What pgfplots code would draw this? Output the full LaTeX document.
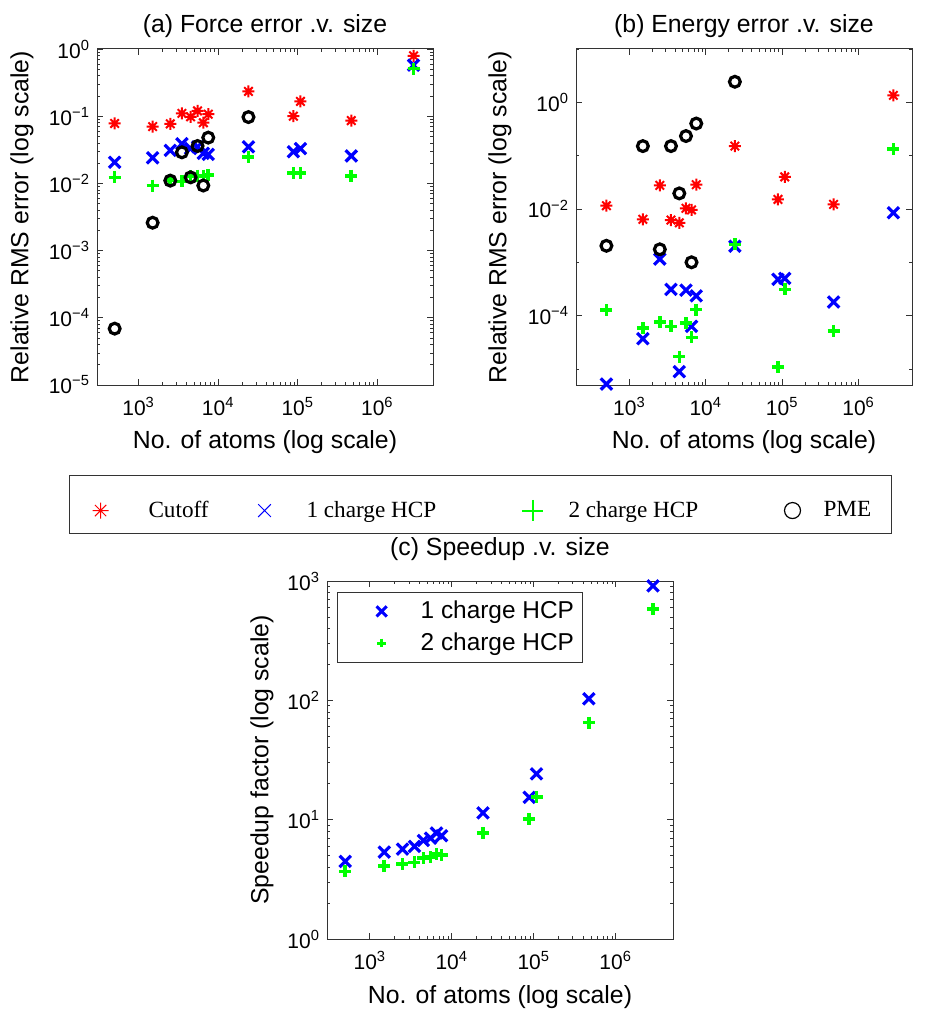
\documentclass[border=0pt]{standalone}
\usepackage{fontspec}
\setmainfont{Liberation Sans}
\newfontfamily\lgfont{Liberation Serif}
\usepackage{pgfplots}
\pgfplotsset{compat=1.18}
\usepackage{pgfplotstable}

% matlab style 8-armed asterisk
\pgfdeclareplotmark{mstar}{%
  \pgfpathmoveto{\pgfqpoint{-\pgfplotmarksize}{0pt}}\pgfpathlineto{\pgfqpoint{\pgfplotmarksize}{0pt}}%
  \pgfpathmoveto{\pgfqpoint{0pt}{-\pgfplotmarksize}}\pgfpathlineto{\pgfqpoint{0pt}{\pgfplotmarksize}}%
  \pgfpathmoveto{\pgfqpoint{-.7071\pgfplotmarksize}{-.7071\pgfplotmarksize}}\pgfpathlineto{\pgfqpoint{.7071\pgfplotmarksize}{.7071\pgfplotmarksize}}%
  \pgfpathmoveto{\pgfqpoint{-.7071\pgfplotmarksize}{.7071\pgfplotmarksize}}\pgfpathlineto{\pgfqpoint{.7071\pgfplotmarksize}{-.7071\pgfplotmarksize}}%
  \pgfusepathqstroke}

\newcommand\tp[1]{10\textsuperscript{#1}}

% force error
\pgfplotstableread{
N cut hcp1 hcp2 pme
500 0.078 0.0206 0.0123 6.9e-5
1500 0.070 0.024 0.0093 0.0026
2500 0.077 0.031 0.0112 0.011
3500 0.110 0.039 0.0107 0.029
4500 0.098 0.033 0.0127 0.0123
5500 0.12 0.035 0.013 0.036
6500 0.080 0.028 0.013 0.0093
7500 0.107 0.027 0.0134 0.048
24000 0.234 0.035 0.0245 0.097
88000 0.10 0.0296 0.0142 nan
108000 0.166 0.033 0.0142 nan
470000 0.086 0.0256 0.013 nan
2850000 0.79 0.575 0.51 nan
}\forcetab

% energy error
\pgfplotstableread{
N cut hcp1 hcp2 pme
500 0.0115 5.2e-6 1.27e-4 0.00204
1500 0.0064 3.7e-5 5.8e-5 0.151
2500 0.0277 0.00115 7.5e-5 0.00175
3500 0.0062 3.1e-4 6.3e-5 0.151
4500 0.0055 8.9e-6 1.7e-5 0.0196
5500 0.0103 3.0e-4 7.2e-5 0.233
6500 0.0096 6.3e-5 3.9e-5 0.001
7500 0.0285 2.35e-4 1.3e-4 0.40
24000 0.151 0.0020 0.00217 2.43
88000 0.0151 4.8e-4 1.1e-5 nan
108000 0.040 5.0e-4 3.1e-4 nan
470000 0.0122 1.8e-4 5.2e-5 nan
2850000 1.35 0.0085 0.133 nan
}\energytab

% speedup
\pgfplotstableread{
N hcp1 hcp2
500 4.47 3.68
1500 5.35 4.11
2500 5.67 4.27
3500 5.97 4.38
4500 6.70 4.77
5500 7.0 4.86
6500 7.73 5.18
7500 7.33 5.08
24000 11.4 7.7
88000 15.4 10.1
108000 24.2 15.5
470000 103 65
2850000 910 580
}\speedtab

\pgfplotsset{
  every axis/.append style={
    scale only axis, clip=false,
    axis line style={black!80, line width=0.5pt},
    major tick style={black!80, line width=0.4pt},
    minor tick style={black!80, line width=0.4pt},
    major tick length=3pt, minor tick length=1.6pt,
    tick align=inside,
    tick label style={font=\fontsize{10.5}{12}\selectfont},
    xticklabel style={yshift=-2.5pt},
    label style={font=\fontsize{12.4}{14}\selectfont},
    title style={font=\fontsize{12.4}{14}\selectfont, at={(axis description cs:0.5,1.032)}, anchor=center},
    xtick={1e3,1e4,1e5,1e6}, xticklabels={\tp{3},\tp{4},\tp{5},\tp{6}},
    xlabel={No. of atoms (log scale)},
    xlabel style={at={(axis description cs:0.5,-0.17)}, anchor=center},
  },
  sCut/.style={only marks, mark=mstar, red, mark size=3pt, line width=1pt},
  sHa/.style={only marks, mark=x, blue, mark size=4pt, line width=1.6pt},
  sHb/.style={only marks, mark=+, green, mark size=3pt, line width=1.8pt},
  sPme/.style={only marks, mark=o, black, mark size=2.7pt, line width=1.6pt},
}

\begin{document}
\begin{tikzpicture}
\useasboundingbox (0,0) rectangle (462.5pt,-510pt);

% (a) force error
\begin{axis}[xmode=log, ymode=log, at={(48.5pt,-192.5pt)}, anchor=south west, width=168pt, height=168pt,
  xmin=300, xmax=5e6, ymin=1e-5, ymax=1,
  ytick={1e-5,1e-4,1e-3,1e-2,1e-1,1},
  yticklabels={\tp{−5},\tp{−4},\tp{−3},\tp{−2},\tp{−1},\tp{0}},
  title={(a) Force error .v. size},
  ylabel={Relative RMS error (log scale)},
  ylabel style={at={(axis description cs:-0.223,0.5)}, anchor=center},
  legend columns=4,
  legend image code/.code={\path[draw=none,fill=none] (-10.5pt,-3pt) rectangle (6pt,11.25pt); \draw[#1] plot coordinates {(0pt,0pt)};},
  legend style={at={(-0.0833,-0.268)}, anchor=north west, draw=black!80, line width=0.5pt,
    inner xsep=5pt, inner ysep=6.25pt, column sep=0pt, nodes={inner sep=0pt},
    font=\lgfont\fontsize{11.6}{13}\selectfont},
]
\addlegendimage{only marks, mark=mstar, red, mark size=4pt, line width=0.5pt}
\addlegendentry{\makebox[65.5pt][l]{\hspace{18pt}Cutoff}}
\addlegendimage{only marks, mark=x, blue, mark size=4.5pt, line width=0.5pt}
\addlegendentry{\makebox[117.5pt][l]{\hspace{15pt}1 charge HCP}}
\addlegendimage{only marks, mark=+, green, mark size=5.3pt, line width=1pt}
\addlegendentry{\makebox[113.5pt][l]{\hspace{12pt}2 charge HCP}}
\addlegendimage{only marks, mark=o, black, mark size=4pt, line width=0.6pt}
\addlegendentry{\makebox[38.5pt][l]{\hspace{9.5pt}PME}}
\addplot[sCut, forget plot] table[x=N, y=cut] {\forcetab};
\addplot[sHa, forget plot] table[x=N, y=hcp1] {\forcetab};
\addplot[sHb, forget plot] table[x=N, y=hcp2] {\forcetab};
\addplot[sPme, forget plot, unbounded coords=discard] table[x=N, y=pme] {\forcetab};
\end{axis}

% (b) energy error
\begin{axis}[xmode=log, ymode=log, at={(288pt,-192.5pt)}, anchor=south west, width=168pt, height=168pt,
  xmin=200, xmax=5e6, ymin=5e-6, ymax=10,
  ytick={1e-4,1e-2,1}, yticklabels={\tp{−4},\tp{−2},\tp{0}},
  minor ytick={1e-5,1e-3,1e-1,10},
  title={(b) Energy error .v. size},
  ylabel={Relative RMS error (log scale)},
  ylabel style={at={(axis description cs:-0.226,0.5)}, anchor=center},
]
\addplot[sCut] table[x=N, y=cut] {\energytab};
\addplot[sHa] table[x=N, y=hcp1] {\energytab};
\addplot[sHb] table[x=N, y=hcp2] {\energytab};
\addplot[sPme, unbounded coords=discard] table[x=N, y=pme] {\energytab};
\end{axis}

% (c) speedup
\begin{axis}[xmode=log, ymode=log, at={(163.5pt,-469.5pt)}, anchor=south west, width=173pt, height=179pt,
  xmin=300, xmax=5e6, ymin=1, ymax=1000,
  ytick={1,10,100,1000}, yticklabels={\tp{0},\tp{1},\tp{2},\tp{3}},
  title={(c) Speedup .v. size},
  title style={at={(axis description cs:0.5,1.056)}},
  ylabel={Speedup factor (log scale)},
  ylabel style={at={(axis description cs:-0.188,0.5)}, anchor=center},
  xlabel style={at={(axis description cs:0.5,-0.162)}},
  legend image code/.code={\path[draw=none,fill=none] (-17.7pt,-3pt) rectangle (3pt,3pt); \draw[#1] plot coordinates {(0pt,0pt)};},
  legend style={at={(0.03,0.97)}, anchor=north west, draw=black!80, line width=0.5pt,
    inner xsep=4.2pt, inner ysep=4.4pt, row sep=5.5pt, nodes={inner sep=0pt},
    font=\fontsize{12.2}{14}\selectfont},
]
\addlegendimage{only marks, mark=x, blue, mark size=3.6pt, line width=1.5pt}
\addlegendentry{\hspace{16.5pt}1 charge HCP}
\addlegendimage{only marks, mark=+, green, mark size=2.2pt, line width=1.5pt}
\addlegendentry{\hspace{16.5pt}2 charge HCP}
\addplot[sHa, forget plot] table[x=N, y=hcp1] {\speedtab};
\addplot[sHb, forget plot] table[x=N, y=hcp2] {\speedtab};
\end{axis}
\end{tikzpicture}
\end{document}
